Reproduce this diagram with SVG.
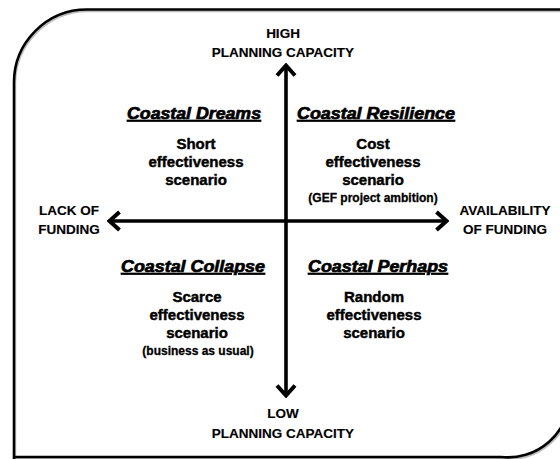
<svg xmlns="http://www.w3.org/2000/svg" width="560" height="459" viewBox="0 0 560 459">
  <style>
    text { font-family: "Liberation Sans", Arial, sans-serif; font-weight: bold; fill: #000; text-anchor: middle; }
    .axis { font-size: 13.5px; stroke: #000; stroke-width: 0.15; }
    .title { font-size: 16px; font-style: italic; text-decoration: underline; stroke: #000; stroke-width: 0.7; }
    .body { font-size: 15px; stroke: #000; stroke-width: 0.45; }
    .note { font-size: 12px; stroke: #000; stroke-width: 0.3; }
    .frame { fill: none; stroke: #000; stroke-width: 2.6; }
    .frame-shadow { fill: none; stroke: #bdbdbd; stroke-width: 2; }
    .axis-line { fill: none; stroke: #000; stroke-width: 3.6; }
  </style>
  <defs>
    <marker id="chev" viewBox="-13 -11 15 22" refX="0" refY="0" markerWidth="15" markerHeight="22" markerUnits="userSpaceOnUse" orient="auto-start-reverse">
      <path d="M-10.5,-9 L-0.5,0 L-10.5,9" fill="none" stroke="#000" stroke-width="4" stroke-linejoin="miter"/>
    </marker>
  </defs>
  <rect width="560" height="459" fill="#fff"/>

  <!-- outer frame: rounded top-left and bottom-right corners -->
  <g id="frame">
    <path class="frame-shadow" transform="translate(1.2,1.8)" d="M14,462 V83 A73,73 0 0 1 87,9.5 H570 V395 A62,62 0 0 1 501,457 H14"/>
    <path class="frame" d="M14,462 V83 A73,73 0 0 1 87,9.5 H570 V395 A62,62 0 0 1 501,457 H14"/>
  </g>

  <!-- axes -->
  <g id="connectors">
    <path class="axis-line" d="M286,65 V396" marker-start="url(#chev)" marker-end="url(#chev)"/>
    <path class="axis-line" d="M109,221 H447" marker-start="url(#chev)" marker-end="url(#chev)"/>
  </g>

  <!-- axis labels -->
  <g id="high-capacity">
    <text class="axis" x="283" y="38">HIGH</text>
    <text class="axis" x="283" y="57">PLANNING CAPACITY</text>
  </g>
  <g id="low-capacity">
    <text class="axis" x="283" y="418">LOW</text>
    <text class="axis" x="283" y="438">PLANNING CAPACITY</text>
  </g>
  <g id="lack-of-funding">
    <text class="axis" x="69" y="215">LACK OF</text>
    <text class="axis" x="69" y="234">FUNDING</text>
  </g>
  <g id="availability-of-funding">
    <text class="axis" x="505" y="215">AVAILABILITY</text>
    <text class="axis" x="505" y="234">OF FUNDING</text>
  </g>

  <!-- quadrants -->
  <g id="coastal-dreams">
    <text class="title" x="194" y="119" textLength="134" lengthAdjust="spacingAndGlyphs">Coastal Dreams</text>
    <text class="body" x="196" y="149">Short</text>
    <text class="body" x="196" y="167">effectiveness</text>
    <text class="body" x="196" y="185">scenario</text>
  </g>
  <g id="coastal-resilience">
    <text class="title" x="376" y="119" textLength="158" lengthAdjust="spacingAndGlyphs">Coastal Resilience</text>
    <text class="body" x="373" y="149">Cost</text>
    <text class="body" x="373" y="167">effectiveness</text>
    <text class="body" x="373" y="185">scenario</text>
    <text class="note" x="373" y="202">(GEF project ambition)</text>
  </g>
  <g id="coastal-collapse">
    <text class="title" x="193" y="272" textLength="144" lengthAdjust="spacingAndGlyphs">Coastal Collapse</text>
    <text class="body" x="197" y="302">Scarce</text>
    <text class="body" x="197" y="320">effectiveness</text>
    <text class="body" x="197" y="338">scenario</text>
    <text class="note" x="198" y="355">(business as usual)</text>
  </g>
  <g id="coastal-perhaps">
    <text class="title" x="378" y="272" textLength="140" lengthAdjust="spacingAndGlyphs">Coastal Perhaps</text>
    <text class="body" x="374" y="302">Random</text>
    <text class="body" x="374" y="320">effectiveness</text>
    <text class="body" x="374" y="338">scenario</text>
  </g>
</svg>
